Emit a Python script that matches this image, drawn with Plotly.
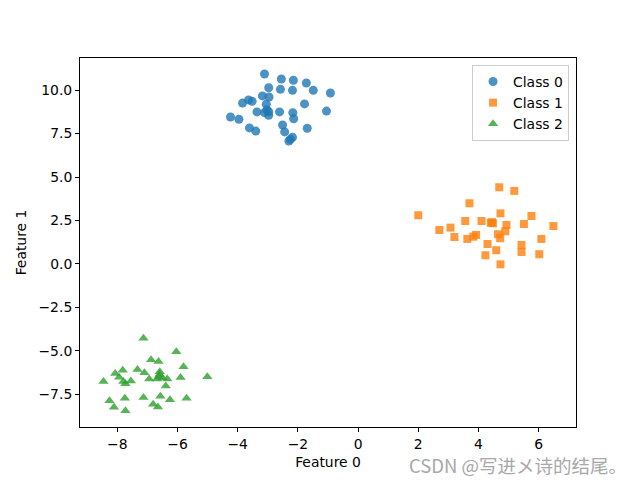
import plotly.graph_objects as go

class0_x = [-3.11, -2.55, -2.15, -1.72, -2.97, -2.58, -2.18, -1.49, -0.92, -3.18, -2.96, -3.64, -3.84, -3.52,
            -3.05, -1.78, -3.03, -3.36, -2.97, -3.11, -2.61, -2.17, -1.05, -2.97, -4.24, -3.96, -2.14, -2.51,
            -3.61, -3.40, -1.69, -2.44, -2.18, -2.30, -2.25]
class0_y = [10.92, 10.63, 10.56, 10.40, 10.13, 10.04, 9.98, 9.98, 9.83, 9.66, 9.60, 9.43, 9.25, 9.35,
            9.18, 9.20, 8.85, 8.74, 8.75, 8.70, 8.74, 8.70, 8.79, 8.55, 8.45, 8.32, 8.35, 7.99,
            7.82, 7.64, 7.80, 7.59, 7.28, 7.07, 7.17]

class1_x = [4.69, 5.19, 3.70, 2.00, 4.73, 5.76, 3.56, 4.10, 4.41, 4.48, 4.93, 5.51, 6.49, 2.70, 3.07,
            4.89, 3.20, 3.63, 3.83, 3.92, 4.65, 4.72, 6.09, 4.30, 5.43, 5.43, 4.59, 4.23, 6.02, 4.73, 4.45]
class1_y = [4.41, 4.20, 3.49, 2.80, 2.91, 2.76, 2.47, 2.47, 2.37, 2.34, 2.24, 2.30, 2.18, 1.95, 2.09,
            1.88, 1.55, 1.44, 1.57, 1.67, 1.71, 1.48, 1.44, 1.15, 1.09, 0.69, 0.79, 0.50, 0.56, -0.02, 2.40]

class2_x = [-7.13, -6.04, -6.88, -6.63, -5.80, -8.07, -7.82, -7.33, -7.10, -6.59, -5.01, -6.62, -7.94,
            -5.90, -8.46, -7.80, -7.55, -6.94, -6.68, -6.34, -7.73, -6.39, -8.26, -7.75, -7.13, -6.57,
            -6.25, -5.70, -8.11, -6.81, -6.65, -7.73, -6.60, -6.50]
class2_y = [-4.27, -5.04, -5.50, -5.61, -5.90, -6.30, -6.11, -6.07, -6.25, -6.19, -6.48, -6.48, -6.51,
            -6.53, -6.76, -6.76, -6.72, -6.61, -6.61, -6.61, -6.88, -7.01, -7.86, -7.72, -7.68, -7.60,
            -7.80, -7.72, -8.24, -8.06, -8.22, -8.43, -6.35, -6.55]

names = ["Class 0", "Class 1", "Class 2"]
colors = ["#1f77b4", "#ff7f0e", "#2ca02c"]
symbols = ["circle", "square", "triangle-up"]
sizes = [9, 8, 9]

fig = go.Figure()
for xs, ys, n, c, s, sz in zip([class0_x, class1_x, class2_x], [class0_y, class1_y, class2_y],
                                names, colors, symbols, sizes):
    fig.add_trace(go.Scatter(x=xs, y=ys, mode="markers", name=n,
                             marker=dict(symbol=s, size=sz, color=c, opacity=0.8,
                                         line=dict(width=0))))

font = dict(family="DejaVu Sans", size=13.9, color="black")
axis_common = dict(showgrid=False, zeroline=False, showline=True, linecolor="black", linewidth=1,
                   mirror=True, ticks="outside", ticklen=4, tickcolor="black", tickfont=font)

fig.update_layout(
    width=640, height=480,
    margin=dict(l=80, r=64, t=58, b=53),
    paper_bgcolor="white", plot_bgcolor="white",
    font=font,
    xaxis=dict(range=[-9.24, 7.24], dtick=2, tick0=0,
               title=dict(text="Feature 0", font=font, standoff=6), **axis_common),
    yaxis=dict(range=[-9.37, 11.84], dtick=2.5, tick0=0, tickformat=".1f",
               title=dict(text="Feature 1", font=font, standoff=8), **axis_common),
    legend=dict(x=0.986, y=0.981, xanchor="right", yanchor="top",
                bgcolor="rgba(255,255,255,0.8)", bordercolor="#cccccc", borderwidth=1,
                font=font, tracegroupgap=0),
    showlegend=True,
)

fig.add_annotation(text="CSDN @写进メ诗的结尾。", xref="paper", yref="paper",
                   x=1.105, y=-0.103, xanchor="right", yanchor="middle", showarrow=False,
                   borderpad=0,
                   font=dict(family="Noto Sans CJK SC", size=18.5, color="#a8a8a8"))

fig.write_html("out.html")
